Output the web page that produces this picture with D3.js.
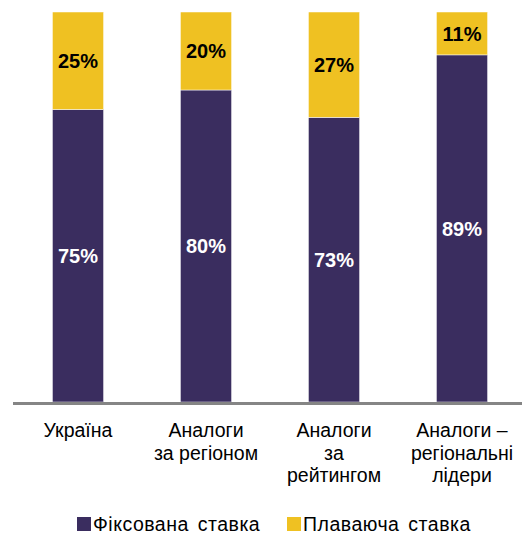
<!DOCTYPE html>
<html>
<head>
<meta charset="utf-8">
<script src="https://cdn.jsdelivr.net/npm/d3@7"></script>
<style>
  body { margin: 0; background: #fff; }
  text { font-family: "Liberation Sans", Arial, sans-serif; }
</style>
</head>
<body>
<svg width="522" height="534"></svg>
<script>
var categories = [["Україна"], ["Аналоги", "за регіоном"], ["Аналоги", "за", "рейтингом"], ["Аналоги –", "регіональні", "лідери"]];
var fixedRate = [75, 80, 73, 89];
var floatRate = [25, 20, 27, 11];
var seriesNames = ["Фіксована ставка", "Плаваюча ставка"];
var colors = ["#3a2d5f", "#efc122"];

var svg = d3.select("svg");

var data = categories.map(function (c, i) {
  return { key: i, fixed: fixedRate[i], float: floatRate[i] };
});

var x = d3.scaleBand().domain(d3.range(categories.length)).range([14, 526]).paddingInner(0.6).paddingOuter(0.3);
var y = d3.scaleLinear().domain([0, 100]).range([402, 12]);

var stack = d3.stack().keys(["fixed", "float"]);
var layers = stack(data);

var layer = svg.selectAll(".layer")
  .data(layers)
  .enter().append("g")
  .attr("class", "layer")
  .attr("fill", function (d, i) { return colors[i]; });

layer.selectAll("rect")
  .data(function (d) { return d; })
  .enter().append("rect")
  .attr("x", function (d, i) { return x(i); })
  .attr("width", x.bandwidth())
  .attr("y", function (d) { return y(d[1]); })
  .attr("height", function (d) { return y(d[0]) - y(d[1]); })
  .attr("stroke", "#fff")
  .attr("stroke-width", 0.5);

// value labels
layer.selectAll("text")
  .data(function (d) { return d; })
  .enter().append("text")
  .attr("x", function (d, i) { return x(i) + x.bandwidth() / 2; })
  .attr("y", function (d) { return (y(d[0]) + y(d[1])) / 2; })
  .attr("dy", "0.36em")
  .attr("text-anchor", "middle")
  .style("font-size", "20px")
  .style("font-weight", "bold")
  .attr("fill", function () { return this.parentNode.__data__.key === "fixed" ? "#fff" : "#000"; })
  .text(function (d) { return Math.round(d[1] - d[0]) + "%"; });

// baseline
svg.append("line")
  .attr("x1", 13).attr("x2", 522)
  .attr("y1", 403.5).attr("y2", 403.5)
  .attr("stroke", "#858585")
  .attr("stroke-width", 3);

// category labels
var labels = svg.selectAll(".cat")
  .data(categories)
  .enter().append("text")
  .attr("class", "cat")
  .attr("text-anchor", "middle")
  .style("font-size", "19.5px")
  .attr("fill", "#000");

labels.selectAll("tspan")
  .data(function (d, i) { return d.map(function (t) { return { t: t, i: i }; }); })
  .enter().append("tspan")
  .attr("x", function (d) { return x(d.i) + x.bandwidth() / 2; })
  .attr("y", function (d, j) { return 437 + j * 22.5; })
  .text(function (d) { return d.t; });

// legend
var legendX = [77, 287];
var legend = svg.selectAll(".legend")
  .data(seriesNames)
  .enter().append("g")
  .attr("class", "legend")
  .attr("transform", function (d, i) { return "translate(" + legendX[i] + ",517)"; });

legend.append("rect")
  .attr("width", 14).attr("height", 14)
  .attr("fill", function (d, i) { return colors[i]; });

legend.append("text")
  .attr("x", 16)
  .attr("y", 13.5)
  .style("font-size", "19.5px")
  .style("letter-spacing", "0.5px")
  .style("word-spacing", "3px")
  .attr("fill", "#000")
  .text(function (d) { return d; });
</script>
</body>
</html>
